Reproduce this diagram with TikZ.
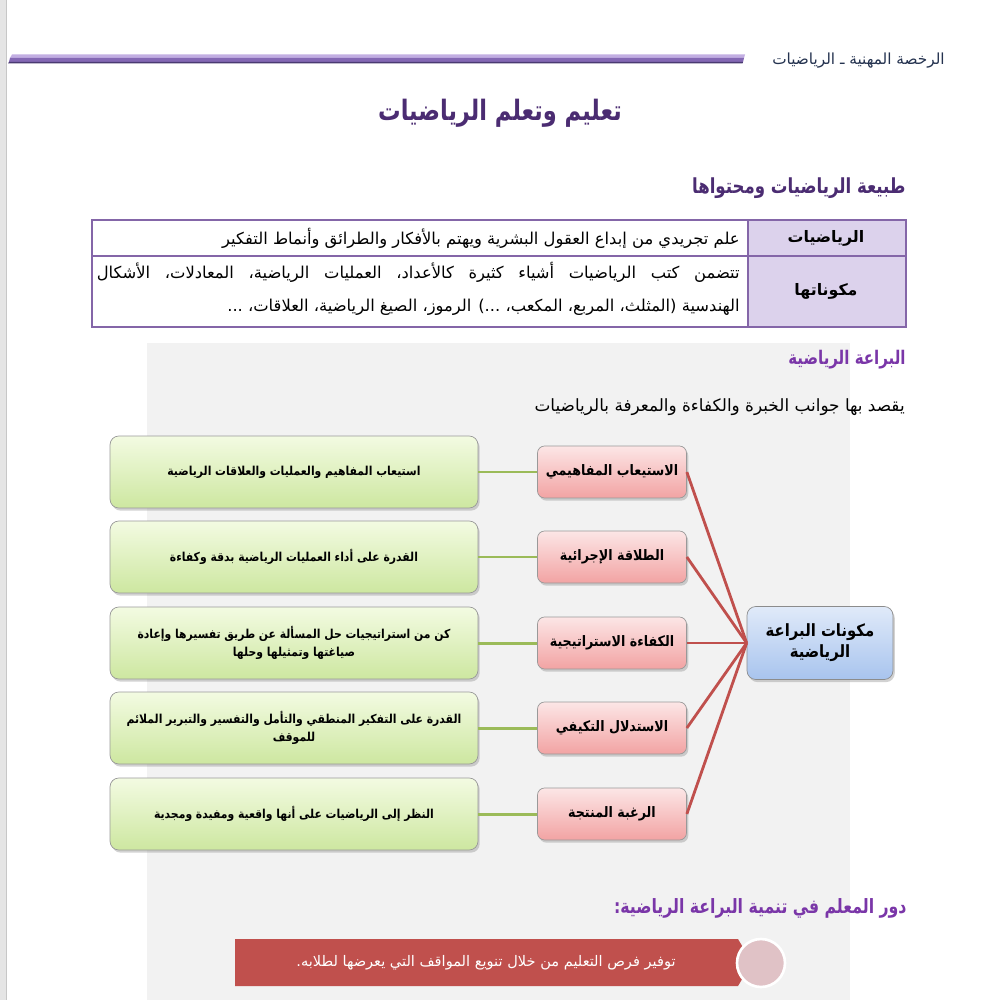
\documentclass[tikz,border=0pt]{standalone}
\usepackage{fontspec}
\usepackage{graphicx}
\usetikzlibrary{shadows}
\newfontfamily\arfont[Script=Arabic]{DejaVu Sans}
\TeXXeTstate=1
\newcommand{\artxt}[1]{\beginR#1\endR}
\newcommand{\narrowtxt}[1]{\scalebox{0.8}[1]{\beginR#1\endR}}
\newcommand{\boxtxt}[1]{\scalebox{0.88}[1]{\beginR#1\endR}}

\definecolor{stripelight}{HTML}{C2AEE2}
\definecolor{stripemid}{HTML}{8468B4}
\definecolor{stripedark}{HTML}{4A3A72}
\definecolor{navytext}{HTML}{24324F}
\definecolor{titlepurple}{HTML}{4B2C72}
\definecolor{headpurple}{HTML}{7A36A8}
\definecolor{tableline}{HTML}{8466A8}
\definecolor{tablehead}{HTML}{DCD2EC}
\definecolor{panelgray}{HTML}{F2F2F2}
\definecolor{greentop}{HTML}{F3FBE2}
\definecolor{greenbot}{HTML}{CDE7A0}
\definecolor{greenlink}{HTML}{9BBB59}
\definecolor{pinktop}{HTML}{FCE6E6}
\definecolor{pinkbot}{HTML}{F2A3A3}
\definecolor{redlink}{HTML}{C0504D}
\definecolor{bluetop}{HTML}{E0EAF9}
\definecolor{bluebot}{HTML}{A8C4EE}
\definecolor{bannerred}{HTML}{C0504D}
\definecolor{dotpink}{HTML}{E0C2C6}

\tikzset{
  greenbox/.style={draw=black!40, rounded corners=5pt, top color=greentop, bottom color=greenbot,
    minimum width=7.36cm, minimum height=1.44cm, inner sep=2pt, align=center, text=black,
    font=\arfont\bfseries\fontsize{7}{10}\selectfont,
    drop shadow={opacity=0.35, shadow xshift=1pt, shadow yshift=-1.5pt}},
  pinkbox/.style={draw=black!40, rounded corners=4pt, top color=pinktop, bottom color=pinkbot,
    minimum width=2.98cm, minimum height=1.04cm, inner sep=2pt, align=center, text=black,
    font=\arfont\bfseries\fontsize{8.2}{11}\selectfont,
    drop shadow={opacity=0.35, shadow xshift=1pt, shadow yshift=-1.5pt}},
  hubbox/.style={draw=black!45, rounded corners=5pt, top color=bluetop, bottom color=bluebot,
    minimum width=2.92cm, minimum height=1.46cm, inner sep=2pt, align=center, text=black,
    font=\arfont\bfseries\fontsize{9.6}{12}\selectfont,
    drop shadow={opacity=0.35, shadow xshift=1pt, shadow yshift=-1.5pt}},
  link/.style={draw=greenlink, line width=1.7pt},
  spoke/.style={draw=redlink, line width=1.6pt},
  tabtext/.style={font=\arfont\fontsize{9.3}{11}\selectfont, inner sep=0pt},
  tabhead/.style={font=\arfont\bfseries\fontsize{9}{11}\selectfont, inner sep=0pt},
  heading/.style={anchor=east, inner sep=0pt, text=headpurple},
}

\begin{document}
\begin{tikzpicture}[x=0.02cm,y=-0.02cm]
\useasboundingbox (0,0) rectangle (1000,1000);
\fill[white] (0,0) rectangle (1000,1000);
% page edge
\fill[black!10] (0,0) rectangle (6,1000);
\draw[black!22, line width=0.6pt] (6.5,0) -- (6.5,1000);

% header
\fill[stripelight] (12,54.5) -- (745,54.5) -- (744,58) -- (10,58) -- cycle;
\fill[stripemid] (10,58) -- (744,58) -- (743,62) -- (9,62) -- cycle;
\fill[stripedark] (9,62) -- (743,62) -- (742.5,63.5) -- (8,63.5) -- cycle;
\node[anchor=east, inner sep=0pt, text=navytext, font=\arfont\fontsize{8.7}{10}\selectfont] (hdr) at (945,61)
  {\artxt{الرخصة المهنية ـ الرياضيات}};
\node[text=titlepurple, font=\arfont\bfseries\fontsize{16}{18}\selectfont] (title) at (500,113)
  {\narrowtxt{تعليم وتعلم الرياضيات}};

% nature of mathematics
\node[heading, text=titlepurple, font=\arfont\bfseries\fontsize{11.8}{13}\selectfont] (sec1) at (906,188)
  {\narrowtxt{طبيعة الرياضيات ومحتواها}};
\fill[tablehead] (748,220) rectangle (906,327);
\draw[tableline, line width=1.2pt] (92,220) rectangle (906,327);
\draw[tableline, line width=1.2pt] (92,256) -- (906,256);
\draw[tableline, line width=1.2pt] (748,220) -- (748,327);
\node[tabhead] (h1) at (826,238) {\artxt{الرياضيات}};
\node[tabhead] (h2) at (826,291) {\artxt{مكوناتها}};
\node[tabtext, anchor=east] (r1) at (740,238)
  {\artxt{علم تجريدي من إبداع العقول البشرية ويهتم بالأفكار والطرائق وأنماط التفكير}};
\node[tabtext, anchor=east] (r2a) at (740,272)
  {\hbox to 12.86cm{\artxt{تتضمن كتب الرياضيات أشياء كثيرة كالأعداد، العمليات الرياضية، المعادلات، الأشكال}}};
\node[tabtext, anchor=east] (r2b) at (740,307)
  {\artxt{الهندسية (المثلث، المربع، المكعب، ...) الرموز، الصيغ الرياضية، العلاقات، ...}};

% proficiency panel
\fill[panelgray] (147,343) rectangle (850,1000);
\node[heading, font=\arfont\bfseries\fontsize{10.7}{12}\selectfont] (sec2) at (906,360)
  {\narrowtxt{البراعة الرياضية}};
\node[anchor=east, inner sep=0pt, font=\arfont\fontsize{9.6}{12}\selectfont] (sub) at (905,407)
  {\artxt{يقصد بها جوانب الخبرة والكفاءة والمعرفة بالرياضيات}};

\node[greenbox] (g1) at (294,472) {\boxtxt{استيعاب المفاهيم والعمليات والعلاقات الرياضية}};
\node[greenbox] (g2) at (294,557) {\boxtxt{القدرة على أداء العمليات الرياضية بدقة وكفاءة}};
\node[greenbox] (g3) at (294,643) {\boxtxt{كن من استراتيجيات حل المسألة عن طريق تفسيرها وإعادة}\\\boxtxt{صياغتها وتمثيلها وحلها}};
\node[greenbox] (g4) at (294,728) {\boxtxt{القدرة على التفكير المنطقي والتأمل والتفسير والتبرير الملائم}\\\boxtxt{للموقف}};
\node[greenbox] (g5) at (294,814) {\boxtxt{النظر إلى الرياضيات على أنها واقعية ومفيدة ومجدية}};

\node[pinkbox] (p1) at (612,472) {\boxtxt{الاستيعاب المفاهيمي}};
\node[pinkbox] (p2) at (612,557) {\boxtxt{الطلاقة الإجرائية}};
\node[pinkbox] (p3) at (612,643) {\boxtxt{الكفاءة الاستراتيجية}};
\node[pinkbox] (p4) at (612,728) {\boxtxt{الاستدلال التكيفي}};
\node[pinkbox] (p5) at (612,814) {\boxtxt{الرغبة المنتجة}};

\node[hubbox] (hub) at (820,643) {\boxtxt{مكونات البراعة}\\\boxtxt{الرياضية}};

\draw[link] (g1) -- (p1);
\draw[link] (g2) -- (p2);
\draw[link] (g3) -- (p3);
\draw[link] (g4) -- (p4);
\draw[link] (g5) -- (p5);
\draw[spoke] (p1.east) -- (hub.west);
\draw[spoke] (p2.east) -- (hub.west);
\draw[spoke] (p3.east) -- (hub.west);
\draw[spoke] (p4.east) -- (hub.west);
\draw[spoke] (p5.east) -- (hub.west);

% teacher role
\node[heading, font=\arfont\bfseries\fontsize{11.2}{13}\selectfont] (sec3) at (907,908)
  {\narrowtxt{دور المعلم في تنمية البراعة الرياضية:}};
\fill[bannerred] (235,939) -- (738,939) -- (752,962.5) -- (738,986) -- (235,986) -- cycle;
\node[text=white, font=\arfont\fontsize{8.3}{10}\selectfont] (role) at (486,962.5)
  {\artxt{توفير فرص التعليم من خلال تنويع المواقف التي يعرضها لطلابه.}};
\node[circle, fill=dotpink, draw=white, line width=1.5pt, minimum size=0.96cm, inner sep=0pt] (dot) at (761,963) {};
\end{tikzpicture}
\end{document}
